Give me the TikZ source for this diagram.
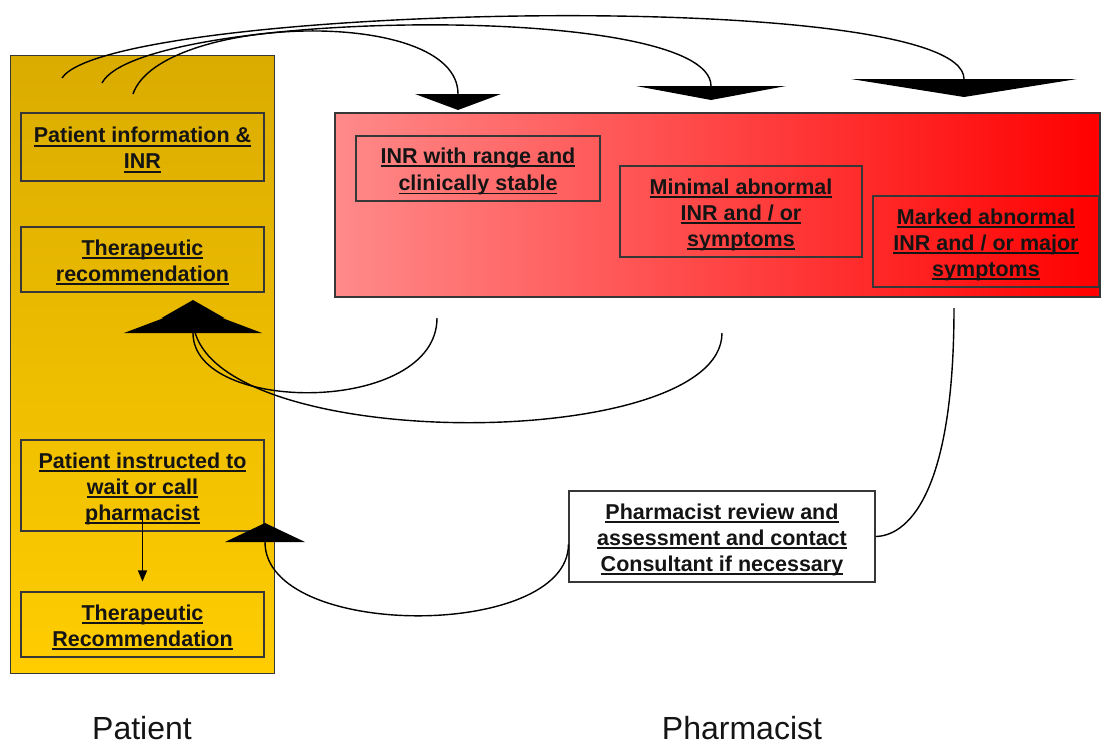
\documentclass[tikz,border=0pt]{standalone}
\usepackage{fontspec}
\setmainfont{Liberation Sans}
\usetikzlibrary{arrows.meta,calc}

\definecolor{golddark}{RGB}{218,172,0}
\definecolor{goldlight}{RGB}{255,205,0}
\definecolor{pinklight}{RGB}{255,138,138}
\definecolor{redfull}{RGB}{255,0,0}
\definecolor{ink}{RGB}{20,20,20}
\definecolor{frame}{RGB}{55,55,55}

% underline at a fixed distance below the baseline, with a tall strut
\newcommand\ulx[1]{\leavevmode\setbox0=\hbox{#1}\rule{0pt}{21.5pt}\rlap{\rule[-3.6pt]{\wd0}{1.6pt}}\box0}

\begin{document}
\begin{tikzpicture}[x=1pt,y=-1pt,
  stepbox/.style={draw=frame, line width=1.1pt, align=center, text=ink,
    font=\fontsize{21.5}{26}\selectfont\bfseries, inner sep=0pt},
  link/.style={line width=1.4pt, draw=black},
  caption/.style={font=\fontsize{32}{36}\selectfont, text=ink}]

\useasboundingbox (0,0) rectangle (1104,745);

% patient column and pharmacist severity band
\node (patcol) [draw=frame, line width=1pt, top color=golddark, bottom color=goldlight,
  minimum width=264pt, minimum height=618pt, inner sep=0pt] at (142,364) {};
\node (zone) [draw=frame, line width=1.3pt, left color=pinklight, right color=redfull,
  minimum width=765pt, minimum height=184pt, inner sep=0pt] at (717.5,205) {};

% patient side boxes
\node (info) [stepbox, minimum width=243pt, minimum height=68pt] at (142.5,147)
  {\ulx{Patient information \&}\\\ulx{INR}};
\node (threc) [stepbox, minimum width=243pt, minimum height=65pt] at (142.5,259.5)
  {\ulx{Therapeutic}\\\ulx{recommendation}};
\node (instr) [stepbox, minimum width=243pt, minimum height=91pt] at (142.5,485.5)
  {\ulx{Patient instructed to}\\\ulx{wait or call}\\\ulx{pharmacist}};
\node (threc2) [stepbox, minimum width=243pt, minimum height=65pt] at (142.5,624.5)
  {\ulx{Therapeutic}\\\ulx{Recommendation}};

% pharmacist side boxes
\node (range) [stepbox, minimum width=244pt, minimum height=65pt] at (478,168.5)
  {\ulx{INR with range and}\\\ulx{clinically stable}};
\node (minimal) [stepbox, minimum width=242pt, minimum height=91pt] at (741,211.5)
  {\ulx{Minimal abnormal}\\\ulx{INR and / or}\\\ulx{symptoms}};
\node (marked) [stepbox, minimum width=226pt, minimum height=91pt] at (986,241.5)
  {\ulx{Marked abnormal}\\\ulx{INR and / or major}\\\ulx{symptoms}};
\node (review) [stepbox, fill=white, minimum width=306pt, minimum height=91pt] at (722,536.5)
  {\ulx{Pharmacist review and}\\\ulx{assessment and contact}\\\ulx{Consultant if necessary}};

% captions
\node (plabel) [caption] at (142,728) {Patient};
\node (rlabel) [caption] at (742,728) {Pharmacist};

% free ends of the connectors
\coordinate (s1) at (133,94);
\coordinate (s2) at (102,83);
\coordinate (s3) at (62,78);
\coordinate (t1) at (458,110);
\coordinate (t2) at (711,100);
\coordinate (t3) at (964,97);
\coordinate (sA) at (437,318);
\coordinate (sB) at (722,333);
\coordinate (tA) at (193,307);
\coordinate (tB) at (193,300);
\coordinate (sD) at (954,308);
\coordinate (tC) at (265,523);

% patient information sent to the three severity levels
\draw[link, -{Triangle[width=86pt,length=16pt,line width=0pt]}] (s1) .. controls (160,15) and (458,5) .. (t1);
\draw[link, -{Triangle[width=150pt,length=14pt,line width=0pt]}] (s2) .. controls (140,10) and (711,0) .. (t2);
\draw[link, -{Triangle[width=226pt,length=18pt,line width=0pt]}] (s3) .. controls (110,5) and (964,-15) .. (t3);

% stable and minimal results return a therapeutic recommendation
\draw[link, -{Triangle[width=138pt,length=26pt,line width=0pt]}] (sA) .. controls (437,415) and (193,415) .. (tA);
\draw[link, -{Triangle[width=63pt,length=18pt,line width=0pt]}] (sB) .. controls (722,455) and (193,455) .. (tB);

% marked results go through pharmacist review
\draw[link] (sD) .. controls (954,500) and (905,536) .. (review.east);
\draw[link, -{Triangle[width=80pt,length=19pt,line width=0pt]}] ([yshift=-8pt]review.west) .. controls (568,640) and (265,640) .. (tC);

% patient instruction leads to recommendation
\draw[line width=1.2pt, -{Triangle[width=9pt,length=11pt]}] ([yshift=18pt]instr.south) -- ([yshift=10pt]threc2.north);

\end{tikzpicture}
\end{document}
